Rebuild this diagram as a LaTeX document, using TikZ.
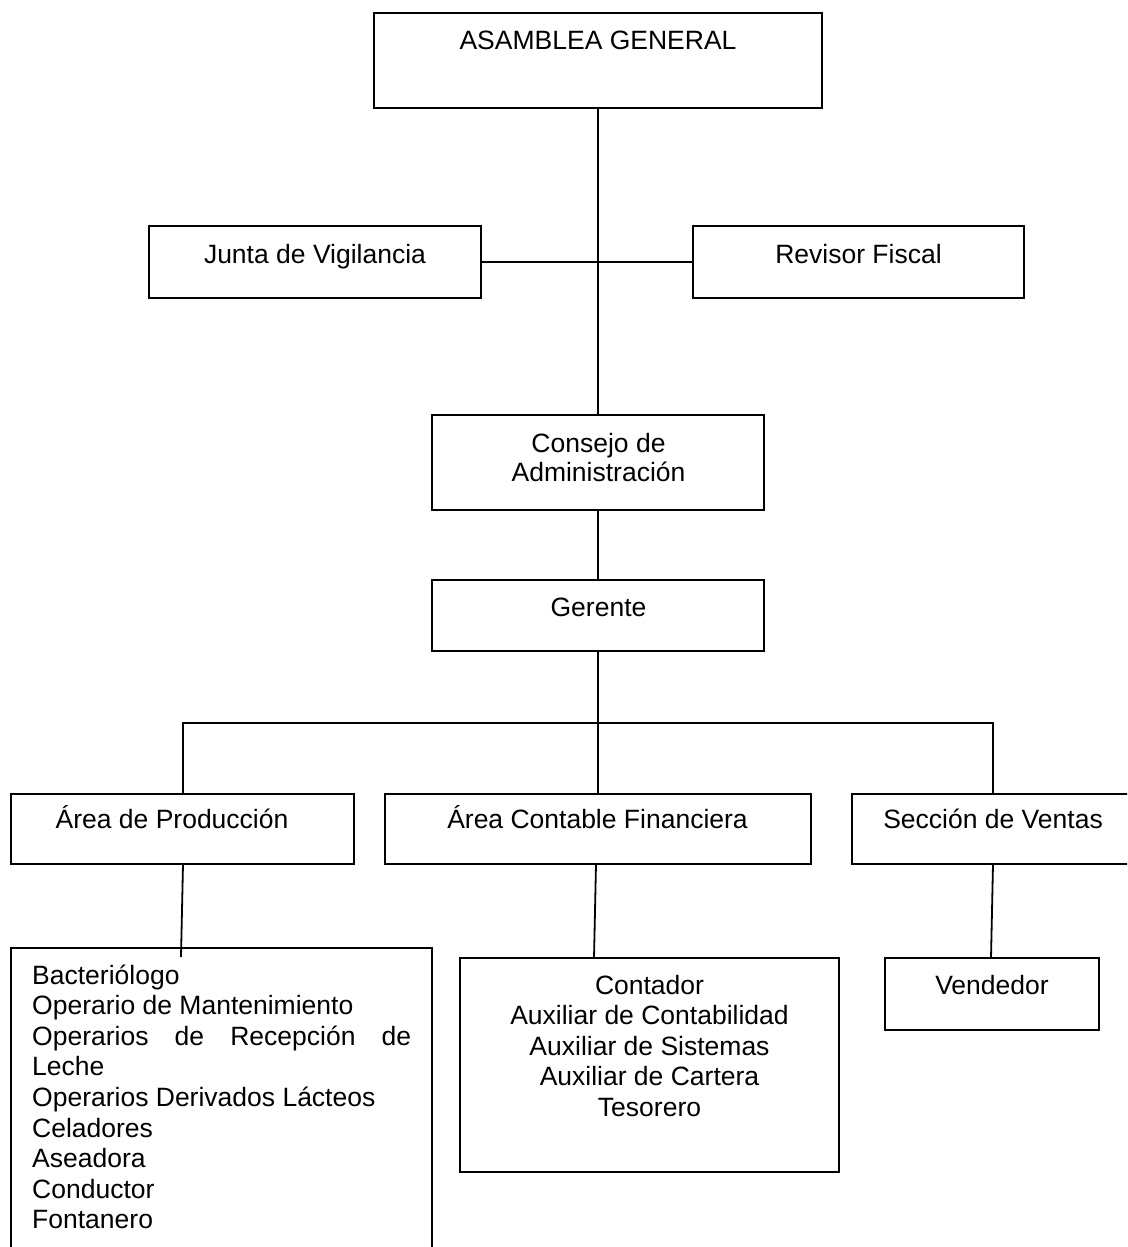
\documentclass[tikz,border=0pt]{standalone}
\usepackage{fontspec}
\setmainfont{Liberation Sans}
\begin{document}
\begin{tikzpicture}[x=1pt,y=-1pt,
  box/.style={draw,line width=1.8pt,inner sep=0pt,outer sep=0pt},
  lbl/.style={font=\fontsize{26.5}{30.6}\selectfont,inner sep=0pt,anchor=base},
  lbll/.style={lbl,anchor=base west},
  conn/.style={line width=1.8pt}]
\useasboundingbox (0,0) rectangle (1127,1247);
\clip (0,0) rectangle (1127,1247);
% boxes
\node[box,minimum width=448pt,minimum height=95pt] (asam) at (598,60.5) {};
\node[box,minimum width=332pt,minimum height=72pt] (junta) at (315,262) {};
\node[box,minimum width=331pt,minimum height=72pt] (revisor) at (858.5,262) {};
\node[box,minimum width=332pt,minimum height=95pt] (consejo) at (598,462.5) {};
\node[box,minimum width=332pt,minimum height=71pt] (gerente) at (598,615.5) {};
\node[box,minimum width=343pt,minimum height=70pt] (prod) at (182.5,829) {};
\node[box,minimum width=426pt,minimum height=70pt] (acf) at (598,829) {};
\node[box,minimum width=282pt,minimum height=70pt] (ventas) at (993,829) {};
\node[box,minimum width=421pt,minimum height=332pt] (list) at (221.5,1114) {};
\node[box,minimum width=379pt,minimum height=214pt] (cont) at (649.5,1065) {};
\node[box,minimum width=214pt,minimum height=72pt] (vend) at (992,994) {};
% connectors
\draw[conn] (asam.south) -- (consejo.north);
\draw[conn] (junta.east) -- (revisor.west);
\draw[conn] (consejo.south) -- (gerente.north);
\coordinate (bus) at (598,723);
\draw[conn] (gerente.south) -- (acf.north);
\draw[conn] ([xshift=0.5pt]prod.north) |- (bus) -| (ventas.north);
\draw[conn] ([xshift=0.5pt]prod.south) -- ([xshift=-40.5pt,yshift=-9pt]list.north);
\draw[conn] ([xshift=-2pt]acf.south) -- ([xshift=-55.5pt]cont.north);
\draw[conn] (ventas.south) -- ([xshift=-1pt]vend.north);
% labels
\node[lbl] (tasam) at (598,49.5) {ASAMBLEA GENERAL};
\node[lbl] (tjunta) at (315,263) {Junta de Vigilancia};
\node[lbl] (trev) at (858.5,263) {Revisor Fiscal};
\node[lbl] (tcons1) at (598.5,452) {Consejo de};
\node[lbl] (tcons2) at (598.5,481) {Administración};
\node[lbl] (tger) at (598.5,616) {Gerente};
\node[lbl] (tprod) at (172,828) {Área de Producción};
\node[lbl] (tacf) at (597.5,828) {Área Contable Financiera};
\node[lbl] (tven) at (993,828) {Sección de Ventas};
\node[lbl] (tvend) at (992,994) {Vendedor};
\foreach \t [count=\i] in {Bacteriólogo, Operario de Mantenimiento,
  {\makebox[379pt][s]{Operarios de Recepción de}}, Leche,
  Operarios Derivados Lácteos, Celadores, Aseadora, Conductor, Fontanero}
  \node[lbll,name=pl\i] at (32,{984+30.6*(\i-1)}) {\t};
\foreach \t [count=\i] in {Contador, Auxiliar de Contabilidad,
  Auxiliar de Sistemas, Auxiliar de Cartera, Tesorero}
  \node[lbl,name=cl\i] at (649.5,{994+30.6*(\i-1)}) {\t};
\end{tikzpicture}
\end{document}
